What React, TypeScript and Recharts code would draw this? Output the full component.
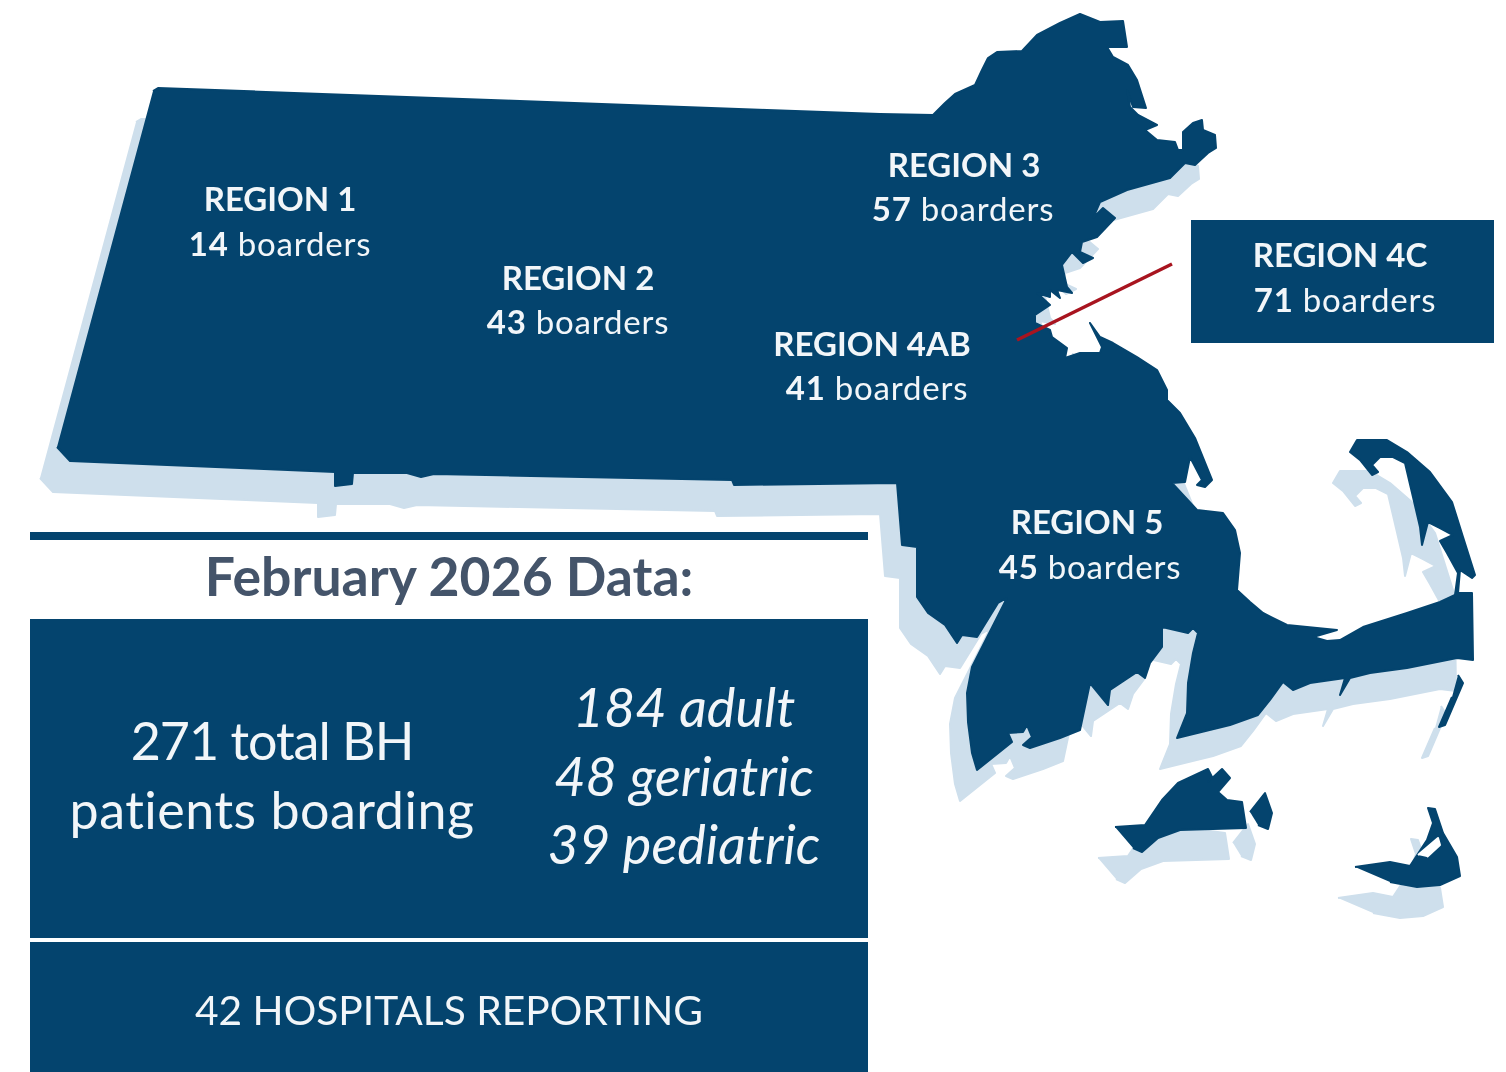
import React from 'react';
import { ScatterChart, Scatter, XAxis, YAxis, ReferenceArea } from 'recharts';

type Pt = [number, number];

const WIDTH = 1506;
const HEIGHT = 1072;
const NAVY = '#04446e';
const SHADOW = '#cedfec';
const WHITE = '#f2f6f9';
const SANS = 'Lato, "Noto Sans", sans-serif';

// Outlines, in picture units
const mainland: Pt[] = [
  [153, 91], [158, 88], [880, 114], [933, 115], [945, 103], [955, 94], [975, 85], [982, 70], [988, 58], [997, 52],
  [1022, 51], [1037, 35], [1060, 23], [1080, 14], [1100, 22], [1123, 21], [1127, 47], [1107, 47], [1113, 57], [1128, 65],
  [1137, 80], [1146, 108], [1133, 107], [1127, 90], [1130, 107], [1138, 115], [1157, 125], [1145, 130], [1157, 140], [1175, 142],
  [1178, 150], [1183, 150], [1183, 132], [1193, 123], [1202, 120], [1203, 130], [1215, 135], [1216, 148], [1208, 153], [1195, 165],
  [1185, 163], [1170, 178], [1127, 190], [1100, 202], [1093, 218], [1103, 208], [1115, 218], [1097, 237], [1082, 242], [1080, 252],
  [1093, 258], [1083, 263], [1072, 252], [1062, 265], [1067, 287], [1072, 293], [1057, 290], [1060, 298], [1050, 290], [1050, 297],
  [1037, 293], [1050, 305], [1035, 315], [1035, 323], [1050, 330], [1052, 337], [1067, 348], [1065, 358], [1080, 353], [1100, 353],
  [1102, 347], [1090, 323], [1100, 337], [1113, 343], [1137, 357], [1157, 370], [1167, 390], [1167, 400], [1180, 413], [1195, 438],
  [1212, 480], [1205, 487], [1197, 485], [1202, 480], [1190, 457], [1185, 482], [1172, 483], [1197, 510], [1223, 513], [1235, 530],
  [1240, 553], [1237, 590], [1250, 602], [1263, 613], [1287, 625], [1337, 630], [1313, 637], [1327, 641], [1340, 640], [1363, 627],
  [1407, 613], [1440, 602], [1455, 595], [1458, 573], [1447, 553], [1440, 541], [1453, 535], [1440, 528], [1428, 522], [1422, 545],
  [1420, 527], [1413, 497], [1405, 463], [1393, 457], [1380, 457], [1372, 465], [1378, 472], [1372, 475], [1360, 460], [1350, 452],
  [1357, 440], [1387, 440], [1407, 452], [1430, 472], [1452, 502], [1463, 537], [1475, 575], [1472, 578], [1460, 570], [1458, 593],
  [1472, 593], [1473, 660], [1457, 658], [1407, 668], [1370, 673], [1350, 678], [1340, 695], [1345, 678], [1310, 683], [1293, 690],
  [1283, 682], [1270, 700], [1258, 715], [1230, 725], [1177, 738], [1187, 713], [1188, 683], [1193, 653], [1198, 633], [1193, 628],
  [1188, 633], [1162, 627], [1162, 647], [1150, 663], [1145, 678], [1137, 672], [1110, 690], [1108, 705], [1090, 683], [1080, 730],
  [1060, 738], [1030, 748], [1023, 745], [1032, 737], [1027, 725], [1023, 732], [1008, 733], [1012, 742], [977, 770], [972, 753],
  [968, 722], [967, 693], [972, 667], [1007, 598], [998, 603], [977, 637], [962, 635], [957, 643], [945, 625], [928, 613],
  [917, 597], [917, 547], [902, 545], [897, 483], [734, 485], [732, 480], [434, 474], [421, 477], [407, 473], [353, 473],
  [352, 484], [335, 486], [335, 472], [70, 461], [57, 447],
];
const vineyard: Pt[] = [
  [1115, 827], [1145, 825], [1162, 800], [1178, 783], [1208, 769], [1212, 777], [1208, 782], [1222, 769], [1230, 778], [1218, 792],
  [1227, 800], [1242, 802], [1246, 828], [1180, 830], [1158, 838], [1142, 852], [1133, 848],
];
const chappaquiddick: Pt[] = [[1250, 812], [1265, 793], [1272, 813], [1268, 829], [1258, 825]];
const nantucket: Pt[] = [
  [1355, 867], [1390, 862], [1410, 866], [1427, 840], [1433, 823], [1428, 808], [1435, 809], [1443, 833], [1457, 857], [1460, 876],
  [1440, 885], [1417, 887], [1390, 882],
];
const nantucketHarbor: Pt[] = [[1418, 855], [1438, 838], [1440, 845], [1427, 857]];
const monomoy: Pt[] = [[1458, 675], [1463, 683], [1445, 725], [1439, 727], [1452, 697]];
const pointerLine: Pt[] = [[1017, 340], [1172, 264]];

const landPieces = [mainland, vineyard, chappaquiddick, nantucket, monomoy];
const SHADOW_DX = -17;
const SHADOW_DY = 31;

const regionNames = ['REGION 1', 'REGION 2', 'REGION 3', 'REGION 4AB', 'REGION 4C', 'REGION 5'];
const regionBoarders = [14, 43, 57, 41, 71, 45];
const nameX = [280, 578, 964, 872, 1340, 1087];
const nameY = [211, 290, 177, 356, 267, 534];
const countX = [280, 578, 963, 877, 1345, 1090];
const countY = [256, 334, 221, 400, 312, 579];

const totalLines = ['271 total BH', 'patients boarding'];
const totalY = [760, 829];
const totalSpacing = [-1, 0.5];
const splitLines = ['184 adult', '48 geriatric', '39 pediatric'];
const splitY = [727, 796, 864];

const toPoints = (pts: Pt[], dx = 0, dy = 0) => pts.map(([x, y]) => ({ x: x + dx, y: y + dy }));

const noDot = () => null;

const polygon = (key: string, pts: { x: number; y: number }[], fill: string) => (
  <Scatter
    key={key}
    data={pts}
    shape={noDot}
    line={{ fill, stroke: fill, strokeWidth: 2, strokeLinejoin: 'round' }}
    lineJointType="linear"
    isAnimationActive={false}
  />
);

const regionNameShape = (props: any) => (
  <text x={props.cx} y={props.cy} textAnchor="middle" fontFamily={SANS} fontSize={33} fontWeight={700} fill={WHITE}>
    {props.payload.label}
  </text>
);

const regionCountShape = (props: any) => (
  <text x={props.cx} y={props.cy} textAnchor="middle" fontFamily={SANS} fontSize={33} letterSpacing={0.8} fill={WHITE}>
    <tspan fontWeight={700}>{props.payload.count}</tspan> boarders
  </text>
);

const textShape = (size: number, color: string, weight = 400, italic = false) => (props: any) => (
  <text
    x={props.cx}
    y={props.cy}
    textAnchor="middle"
    fontFamily={SANS}
    fontSize={size}
    fontWeight={weight}
    fontStyle={italic ? 'italic' : 'normal'}
    letterSpacing={props.payload.spacing ?? 0}
    fill={color}
  >
    {props.payload.label}
  </text>
);

export default function App() {
  const nameData = regionNames.map((label, i) => ({ x: nameX[i], y: nameY[i], label }));
  const countData = regionBoarders.map((count, i) => ({ x: countX[i], y: countY[i], count }));
  const totalData = totalLines.map((label, i) => ({ x: 272, y: totalY[i], label, spacing: totalSpacing[i] }));
  const splitData = splitLines.map((label, i) => ({ x: 684, y: splitY[i], label }));

  return (
    <div style={{ position: 'absolute', left: 0, top: 0, background: '#fff', filter: 'blur(0.6px)' }}>
      <ScatterChart width={WIDTH} height={HEIGHT} margin={{ top: 0, right: 0, bottom: 0, left: 0 }}>
        <XAxis type="number" dataKey="x" domain={[0, WIDTH]} hide allowDataOverflow />
        <YAxis type="number" dataKey="y" domain={[0, HEIGHT]} reversed hide allowDataOverflow />

        {/* drop shadow first, land on top of it */}
        {landPieces.map((piece, i) => polygon(`shadow-${i}`, toPoints(piece, SHADOW_DX, SHADOW_DY), SHADOW))}
        {landPieces.map((piece, i) => polygon(`land-${i}`, toPoints(piece), NAVY))}
        {polygon('harbor', toPoints(nantucketHarbor), '#ffffff')}

        <ReferenceArea x1={1191} x2={1494} y1={220} y2={343} fill={NAVY} fillOpacity={1} stroke="none" />
        <ReferenceArea x1={30} x2={868} y1={532} y2={540} fill={NAVY} fillOpacity={1} stroke="none" />
        <ReferenceArea x1={30} x2={868} y1={619} y2={938} fill={NAVY} fillOpacity={1} stroke="none" />
        <ReferenceArea x1={30} x2={868} y1={942} y2={1072} fill={NAVY} fillOpacity={1} stroke="none" />

        <Scatter
          data={toPoints(pointerLine)}
          shape={noDot}
          line={{ stroke: '#a8141f', strokeWidth: 3.5 }}
          lineJointType="linear"
          isAnimationActive={false}
        />

        <Scatter data={nameData} shape={regionNameShape} isAnimationActive={false} />
        <Scatter data={countData} shape={regionCountShape} isAnimationActive={false} />
        <Scatter
          data={[{ x: 449, y: 596, label: 'February 2026 Data:' }]}
          shape={textShape(53.5, '#44546a', 700)}
          isAnimationActive={false}
        />
        <Scatter data={totalData} shape={textShape(52, WHITE)} isAnimationActive={false} />
        <Scatter data={splitData} shape={textShape(54, WHITE, 400, true)} isAnimationActive={false} />
        <Scatter
          data={[{ x: 449, y: 1025, label: '42 HOSPITALS REPORTING' }]}
          shape={textShape(40.7, WHITE)}
          isAnimationActive={false}
        />
      </ScatterChart>
    </div>
  );
}
